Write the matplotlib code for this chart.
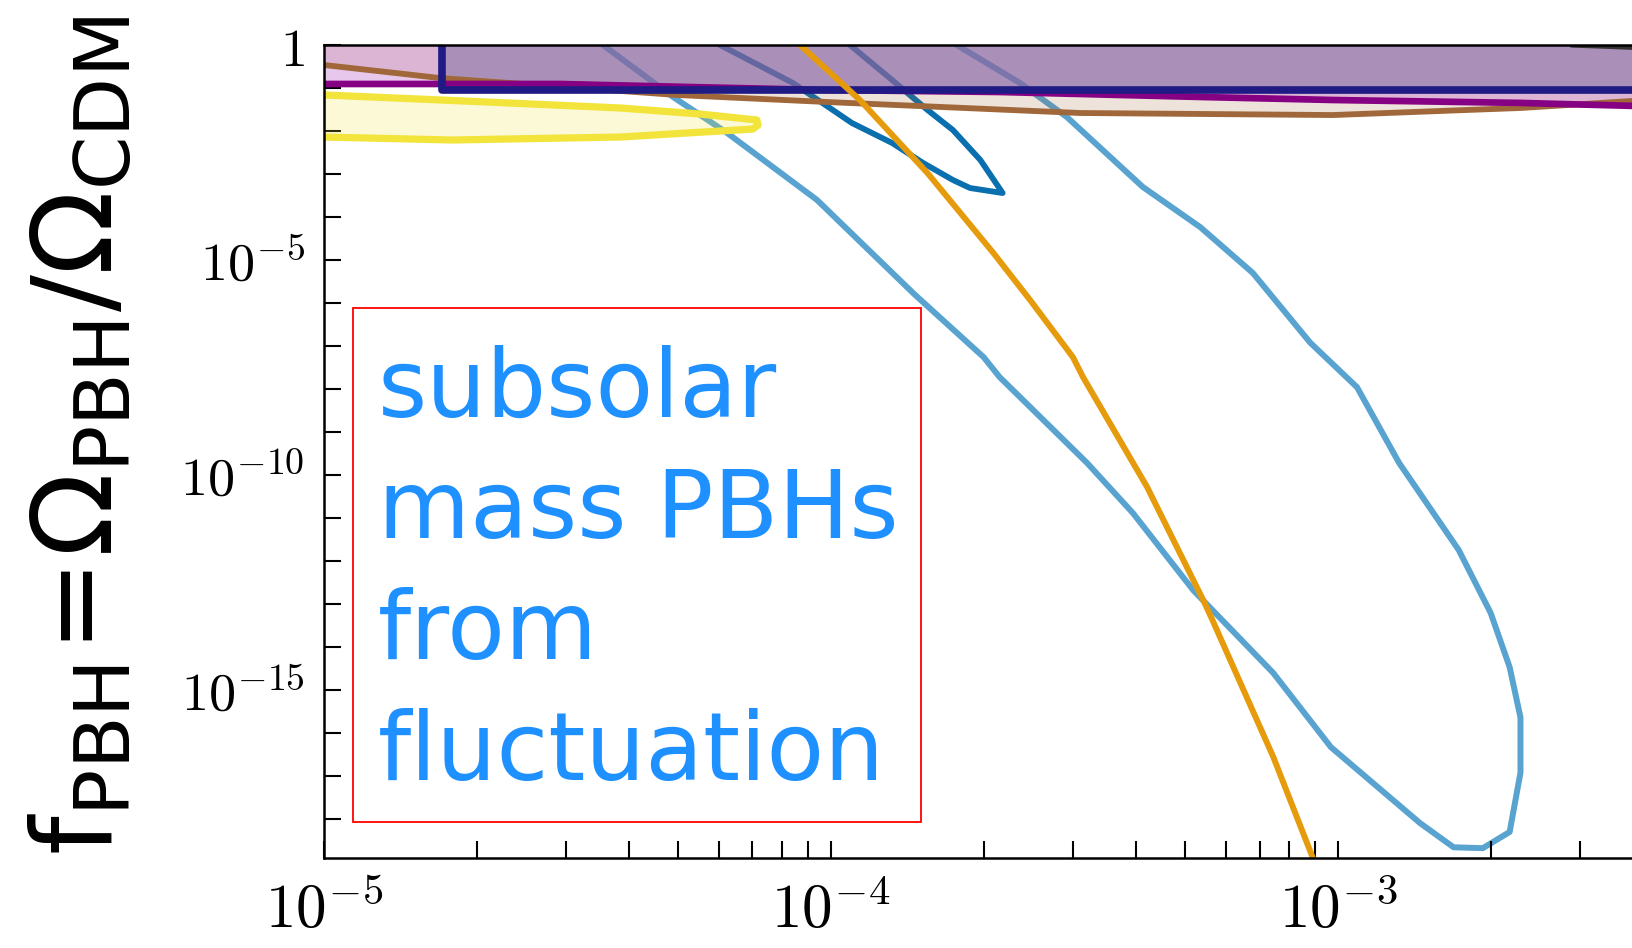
import numpy as np
import matplotlib
matplotlib.use("Agg")
import matplotlib.pyplot as plt
from matplotlib.patches import Rectangle
from matplotlib.ticker import FixedLocator, LogLocator, NullFormatter

# valores: massa (M_sun) e f_PBH

# contorno azul claro (banda grande)
azul_claro_massa = [3.55e-5, 4.88e-5, 6.24e-5, 9.38e-5, 1.46e-4, 2.00e-4, 2.15e-4, 3.20e-4,
                    3.94e-4, 5.18e-4, 7.45e-4, 9.68e-4, 1.45e-3, 1.69e-3, 1.93e-3, 2.18e-3,
                    2.29e-3, 2.29e-3, 2.18e-3, 2.00e-3, 1.73e-3, 1.32e-3, 1.09e-3, 8.81e-4,
                    6.79e-4, 5.35e-4, 4.12e-4, 2.92e-4, 2.36e-4, 1.77e-4]
azul_claro_f = [1.0, 6.2e-2, 9.0e-3, 2.5e-4, 1.6e-6, 5.5e-8, 1.9e-8, 1.9e-10,
                1.3e-11, 2.1e-13, 2.5e-15, 4.7e-17, 8.1e-19, 2.2e-19, 2.1e-19, 5.0e-19,
                1.2e-17, 2.3e-16, 3.4e-15, 6.2e-14, 1.8e-12, 1.9e-10, 1.1e-8, 1.2e-7,
                5.0e-6, 5.8e-5, 5.0e-4, 2.1e-2, 1.3e-1, 1.0]

# contorno azul escuro (pequeno)
azul_escuro_massa = [6.04e-5, 8.41e-5, 1.10e-4, 1.32e-4, 1.52e-4, 1.74e-4, 1.88e-4,
                     2.18e-4, 1.97e-4, 1.74e-4, 1.55e-4, 1.32e-4, 1.09e-4]
azul_escuro_f = [1.0, 0.131, 1.53e-2, 5.26e-3, 1.80e-3, 7.24e-4, 4.72e-4,
                 3.61e-4, 2.12e-3, 1.05e-2, 3.08e-2, 0.153, 1.0]

# curva laranja
laranja_massa = [8.69e-5, 1.14e-4, 1.55e-4, 2.09e-4, 2.47e-4, 3.00e-4, 3.14e-4,
                 4.20e-4, 5.42e-4, 5.64e-4, 7.45e-4, 8.93e-4]
laranja_f = [1.0, 5.26e-2, 1.05e-3, 1.46e-5, 1.17e-6, 5.5e-8, 1.9e-8,
             5.3e-11, 1.24e-13, 4.5e-14, 2.8e-17, 1.2e-19]

# elipse amarela
amarelo_massa = [9.0e-6, 1.0e-5, 2.10e-5, 3.84e-5, 5.52e-5, 7.14e-5, 7.18e-5,
                 7.01e-5, 3.84e-5, 1.79e-5, 1.0e-5, 9.0e-6]
amarelo_f = [7.0e-2, 6.9e-2, 4.72e-2, 3.43e-2, 2.48e-2, 1.80e-2, 1.38e-2,
             1.11e-2, 7.24e-3, 6.18e-3, 7.24e-3, 7.5e-3]

# limite marrom
marrom_massa = [8.9e-6, 1.0e-5, 1.69e-5, 4.97e-5, 9.82e-5, 3.10e-4, 9.77e-4,
                1.79e-3, 2.29e-3, 3.8e-3]
marrom_f = [0.35, 0.343, 0.171, 6.87e-2, 4.72e-2, 2.62e-2, 2.35e-2,
            3.08e-2, 3.43e-2, 4.99e-2]

# limite roxo
roxo_massa = [8.9e-6, 1.0e-5, 2.92e-5, 5.35e-5, 9.82e-5, 2.15e-4, 5.35e-4,
              9.77e-4, 2.29e-3, 3.8e-3]
roxo_f = [0.124, 0.124, 0.124, 0.105, 8.97e-2, 8.07e-2, 6.18e-2,
          5.26e-2, 4.50e-2, 3.84e-2]

# caixa azul marinho
caixa_massa = [1.71e-5, 4.0e-3]
caixa_f = [0.0875, 1.0]

# traço cinza no canto superior direito
cinza_massa = [2.9e-3, 3.3e-3, 3.8e-3]
cinza_f = [0.97, 0.92, 0.86]

xticks_major = [1e-5, 1e-4, 1e-3]
xtick_labels = [r'$10^{-5}$', r'$10^{-4}$', r'$10^{-3}$']
yticks_major = [1.0, 1e-5, 1e-10, 1e-15]
ytick_labels = [r'$1$', r'$10^{-5}$', r'$10^{-10}$', r'$10^{-15}$']

texto_caixa = ["subsolar", "mass PBHs", "from", "fluctuation"]


def main():
    plt.rcParams['mathtext.fontset'] = 'cm'
    W, H = 1632, 948
    fig = plt.figure(figsize=(W / 100, H / 100), dpi=100)
    ax = fig.add_axes([324 / W, 1 - 858 / H, 1 - 324 / W, (858 - 45) / H])
    ax.set_xscale('log')
    ax.set_yscale('log')

    # linhas azuis ficam por baixo das regiões preenchidas
    ax.plot(azul_claro_massa, azul_claro_f, color='#58a3d0', lw=4.3, zorder=1)
    ax.plot(azul_escuro_massa, azul_escuro_f, color='#0a6fae', lw=4.2, zorder=1)

    ax.fill_between(marrom_massa, marrom_f, 1.0, color='#a0643c', alpha=0.18, lw=0, zorder=2)
    ax.fill_between(roxo_massa, roxo_f, 1.0, color='#be64c8', alpha=0.36, lw=0, zorder=2)
    ax.fill_between(caixa_massa, caixa_f[0], caixa_f[1], color='#6e6496', alpha=0.45,
                    lw=0, zorder=3)

    ax.plot(marrom_massa, marrom_f, color='#a0683a', lw=4.2, zorder=4)
    ax.plot(roxo_massa, roxo_f, color='#850082', lw=4.8, zorder=4)
    ax.plot([caixa_massa[1], caixa_massa[0], caixa_massa[0]],
            [caixa_f[0], caixa_f[0], caixa_f[1]], color='#201a85', lw=5.5, zorder=5)

    ax.fill(amarelo_massa, amarelo_f, color='#f2e43a', alpha=0.2, lw=0, zorder=4)
    ax.plot(amarelo_massa, amarelo_f, color='#f2e43a', lw=5.2, zorder=5)

    ax.plot(laranja_massa, laranja_f, color='#e69b0c', lw=4.3, zorder=6)
    ax.plot(cinza_massa, cinza_f, color='#333333', lw=3, zorder=6)

    ax.set_xlim(1e-5, 3.8e-3)
    ax.set_ylim(1.24e-19, 1.0)

    ax.xaxis.set_major_locator(FixedLocator(xticks_major))
    ax.set_xticklabels(xtick_labels)
    ax.xaxis.set_minor_locator(LogLocator(base=10, subs=np.arange(2, 10), numticks=30))
    ax.xaxis.set_minor_formatter(NullFormatter())
    ax.yaxis.set_major_locator(FixedLocator(yticks_major))
    ax.set_yticklabels(ytick_labels)
    ax.yaxis.set_minor_locator(LogLocator(base=10, subs=(1.0,), numticks=40))
    ax.yaxis.set_minor_formatter(NullFormatter())

    ax.tick_params(which='both', direction='in', length=12.5, width=1.5,
                   top=False, right=False)
    ax.tick_params(axis='x', labelsize=44, pad=17)
    ax.tick_params(axis='y', labelsize=39, pad=14)

    ax.spines['right'].set_visible(False)
    for s in ['left', 'bottom', 'top']:
        ax.spines[s].set_linewidth(1.8)
        ax.spines[s].set_zorder(7)

    # rótulo do eixo y
    fig.text(81 / W, 1 - 436 / H,
             r'$\mathrm{f}_{\mathrm{PBH}}\!=\!\Omega_{\mathrm{PBH}}/\Omega_{\mathrm{CDM}}$',
             rotation=90, ha='center', va='center', fontsize=79,
             math_fontfamily='dejavusans', color='black')

    # caixa de texto vermelha
    fig.patches.append(Rectangle((353 / W, 1 - 822 / H), (921 - 353) / W, (822 - 308) / H,
                                 transform=fig.transFigure, fill=False,
                                 edgecolor='red', lw=1.3, zorder=10))
    for i, linha in enumerate(texto_caixa):
        fig.text(378 / W, 1 - (417 + 121 * i) / H, linha, ha='left', va='baseline',
                 fontsize=68, color='#1e90ff', family='DejaVu Sans', zorder=11)

    fig.savefig('out.png', dpi=100)


if __name__ == "__main__":
    main()
